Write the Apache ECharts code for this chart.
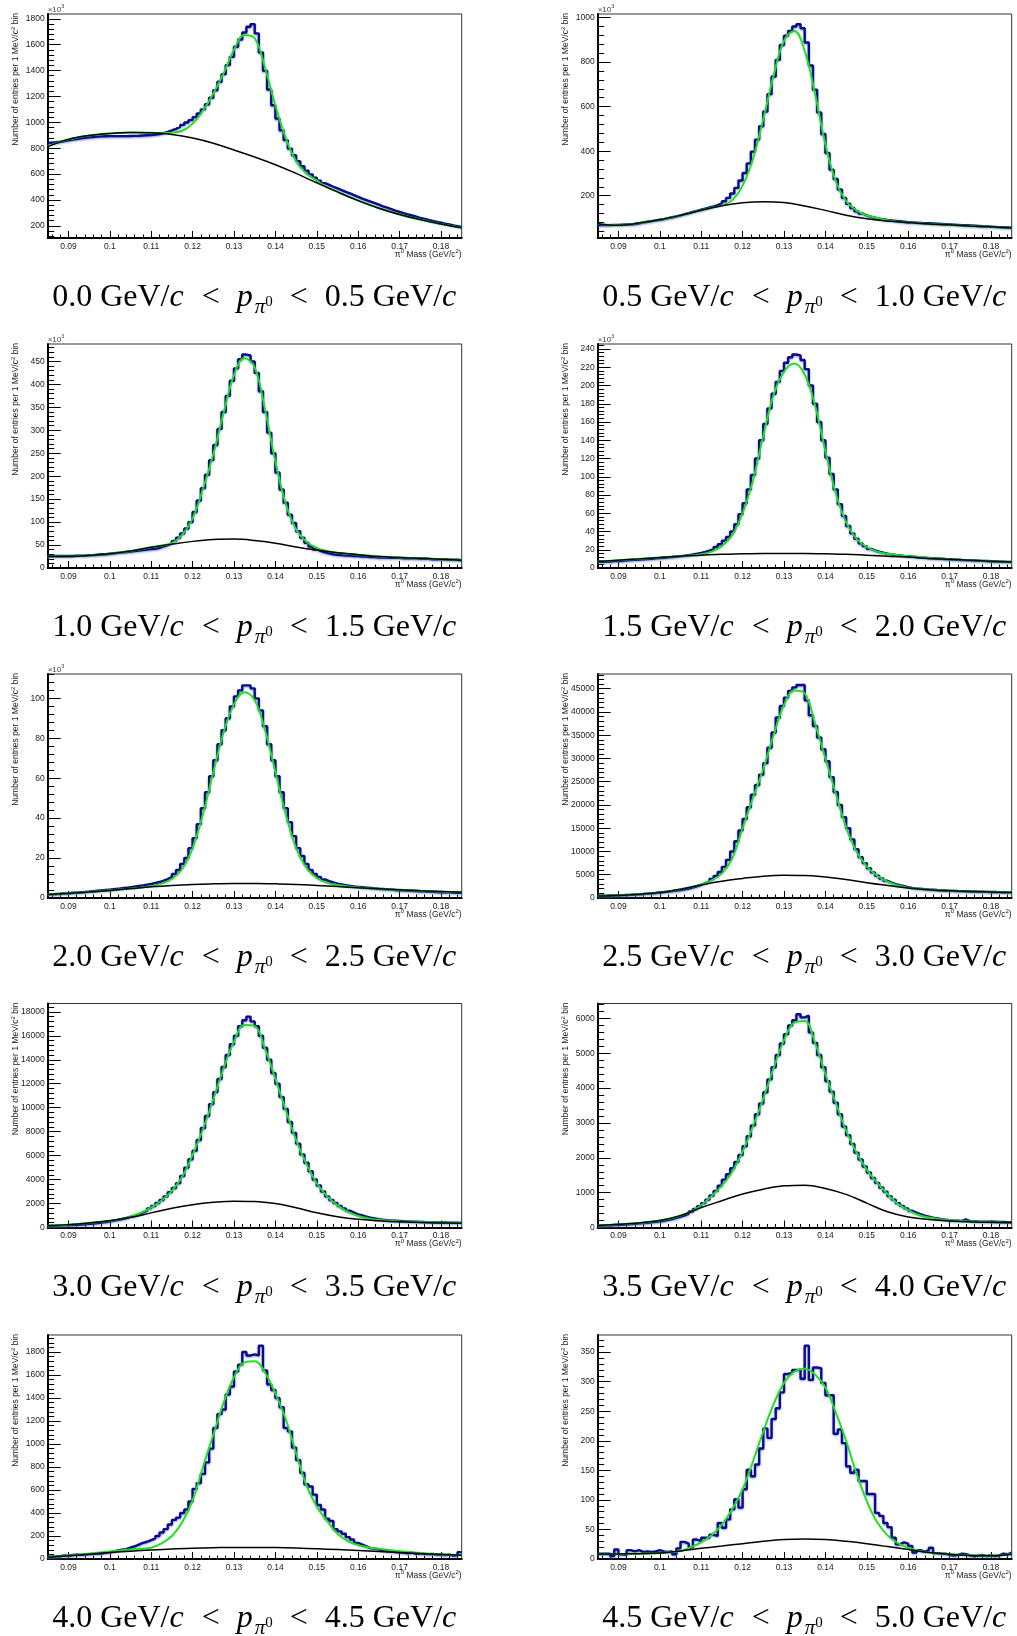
<!DOCTYPE html>
<html>
<head>
<meta charset="utf-8">
<script src="https://cdn.jsdelivr.net/npm/echarts@6/dist/echarts.min.js"></script>
<style>
  html, body { margin: 0; padding: 0; background: #fff; }
  #chart { width: 1017px; height: 1636px; }
</style>
</head>
<body>
<div id="chart"></div>
<script>
// pi0 mass histograms, 1 MeV bins from 0.085 to 0.185 GeV/c^2
const binStart = 0.085;
const binWidth = 0.001;
const fitStep = 0.0025;   // green fit curve sampling
const bkgStep = 0.005;    // black background curve sampling

const xTicks = [0.09, 0.1, 0.11, 0.12, 0.13, 0.14, 0.15, 0.16, 0.17, 0.18];
const xTickLabels = ['0.09', '0.1', '0.11', '0.12', '0.13', '0.14', '0.15', '0.16', '0.17', '0.18'];

const pLow = ['0.0', '0.5', '1.0', '1.5', '2.0', '2.5', '3.0', '3.5', '4.0', '4.5'];
const pHigh = ['0.5', '1.0', '1.5', '2.0', '2.5', '3.0', '3.5', '4.0', '4.5', '5.0'];

// ---- panel 1 (x10^3)
const hist1 = [842, 846, 850, 855, 860, 866, 871, 876, 880, 884, 887, 889, 891, 892, 893, 893, 893, 893, 893, 894,
  895, 896, 898, 900, 902, 905, 910, 917, 926, 937, 950, 964, 980, 998, 1017, 1040, 1068, 1100, 1140, 1190,
  1248, 1313, 1372, 1442, 1506, 1584, 1640, 1694, 1738, 1759, 1687, 1540, 1398, 1254, 1132, 1029, 939, 862, 797, 746,
  700, 660, 627, 598, 572, 548, 530, 516, 502, 489, 476, 463, 450, 437, 424, 411, 399, 387, 375, 363,
  351, 340, 329, 318, 308, 298, 289, 280, 271, 262, 254, 246, 238, 231, 224, 217, 211, 204, 198, 192];
const fit1 = [812, 845, 868, 885, 898, 907, 914, 918, 921, 921, 919, 917, 920, 935, 990, 1090, 1223, 1380, 1560, 1675,
  1650, 1420, 1130, 880, 700, 605, 550, 497, 462, 428, 395, 365, 336, 311, 288, 267, 248, 230, 214, 199, 185];
const bkg1 = [812, 868, 898, 914, 921, 919, 905, 878, 838, 786, 732, 672, 605, 532, 462, 395, 336, 288, 248, 214, 185];
const yTicks1 = [200, 400, 600, 800, 1000, 1200, 1400, 1600, 1800];

// ---- panel 2 (x10^3)
const hist2 = [68, 68, 68, 69, 69, 70, 71, 72, 73, 76, 80, 83, 86, 89, 92, 95, 99, 103, 107, 112,
  117, 122, 127, 132, 137, 142, 147, 152, 158, 166, 175, 190, 210, 235, 268, 302, 345, 398, 452, 512,
  578, 656, 735, 810, 877, 918, 940, 960, 970, 952, 888, 785, 676, 574, 477, 392, 317, 275, 228, 190,
  164, 145, 130, 120, 112, 106, 101, 97, 94, 91, 89, 87, 85, 83, 81, 80, 79, 78, 77, 76,
  75, 74, 73, 72, 71, 70, 69, 68, 67, 66, 65, 64, 63, 62, 61, 60, 59, 58, 57, 56];
const fit2 = [74, 69, 67, 71, 77, 84, 92, 102, 112, 124, 135, 146, 156, 180, 245, 365, 545, 740, 895, 940,
  850, 657, 430, 265, 175, 134, 112, 100, 90, 83, 79, 76, 73, 71, 69, 66, 64, 62, 60, 57, 55];
const bkg2 = [74, 67, 77, 92, 112, 135, 155, 168, 173, 169, 154, 134, 112, 96, 86, 79, 73, 69, 64, 60, 55];
const yTicks2 = [200, 400, 600, 800, 1000];

// ---- panel 3 (x10^3)
const hist3 = [26, 26, 26, 26, 26, 26, 27, 27, 27, 28, 28, 29, 30, 30, 31, 32, 33, 34, 35, 36,
  37, 38, 39, 40, 41, 42, 44, 47, 50, 54, 59, 66, 75, 86, 100, 122, 147, 174, 203, 235,
  268, 303, 340, 375, 408, 435, 455, 465, 463, 450, 425, 385, 340, 295, 250, 208, 171, 142, 116, 98,
  80, 66, 55, 47, 41, 37, 34, 32, 30, 29, 28, 27, 27, 26, 26, 25, 25, 24, 24, 23,
  23, 23, 22, 22, 22, 21, 21, 21, 21, 20, 20, 20, 19, 19, 19, 19, 18, 18, 18, 17];
const fit3 = [25, 25, 25, 26, 27, 29, 31, 34, 37, 41, 45, 49, 54, 72, 108, 172, 248, 338, 420, 457,
  437, 345, 232, 140, 84, 57, 44, 37, 33, 31, 29, 27, 25, 24, 23, 22, 21, 20, 19, 18, 17];
const bkg3 = [25, 25, 27, 31, 37, 45, 52, 58, 62, 63, 60, 54, 46, 39, 33, 29, 25, 23, 21, 19, 17];
const yTicks3 = [0, 50, 100, 150, 200, 250, 300, 350, 400, 450];

// ---- panel 4 (x10^3)
const hist4 = [6.8, 7.0, 7.2, 7.5, 7.7, 8.0, 8.3, 8.6, 8.9, 9.2, 9.5, 9.8, 10.1, 10.5, 10.8, 11.2, 11.6, 12.0, 12.5, 13.0,
  13.5, 14.1, 14.8, 15.6, 16.5, 17.6, 19.0, 20.8, 23.0, 26.0, 30, 34, 40, 48, 59, 71, 86, 102, 120, 140,
  158, 175, 191, 204, 216, 225, 231, 234, 233, 228, 218, 200, 180, 160, 140, 121, 103, 86, 70, 57,
  46, 38, 32, 27, 24, 21, 19.2, 17.8, 16.7, 15.8, 15.0, 14.3, 13.8, 13.3, 12.9, 12.5, 12.1, 11.7, 11.4, 11.0,
  10.7, 10.4, 10.1, 9.8, 9.6, 9.3, 9.1, 8.8, 8.6, 8.4, 8.2, 8.0, 7.8, 7.6, 7.4, 7.2, 7.0, 6.9, 6.7, 6.6];
const fit4 = [7, 7.8, 8.5, 9.2, 10, 10.8, 11.5, 12.3, 13, 13.8, 15, 18, 24, 36, 60, 96, 145, 190, 215, 224,
  212, 178, 128, 82, 50, 32, 23, 18, 15.5, 14, 13, 12, 11, 10.3, 9.6, 9, 8.5, 8, 7.5, 7, 6.5];
const bkg4 = [7, 8.5, 10, 11.5, 13, 14, 15, 15.5, 16, 16, 16, 15.5, 15, 14, 13, 12, 10.5, 9.5, 8.5, 7.5, 6.5];
const yTicks4 = [0, 20, 40, 60, 80, 100, 120, 140, 160, 180, 200, 220, 240];

// ---- panel 5 (x10^3)
const hist5 = [1.8, 2.0, 2.1, 2.3, 2.4, 2.6, 2.7, 2.9, 3.0, 3.2, 3.4, 3.6, 3.8, 4.0, 4.2, 4.4, 4.6, 4.9, 5.1, 5.4,
  5.7, 6.0, 6.3, 6.7, 7.0, 7.5, 8.0, 8.7, 9.5, 10.5, 12.0, 14.0, 17, 20, 25, 30, 37, 45, 53, 61,
  69, 77, 84, 90, 96, 101, 104, 106.5, 106.5, 105, 100, 94, 86, 77, 69, 61, 53, 45, 38, 31,
  25, 21, 17, 14, 12, 10.5, 9.3, 8.5, 7.8, 7.2, 6.8, 6.4, 6.1, 5.8, 5.6, 5.4, 5.2, 5.0, 4.8, 4.6,
  4.5, 4.3, 4.2, 4.0, 3.9, 3.8, 3.7, 3.6, 3.5, 3.4, 3.3, 3.2, 3.1, 3.0, 2.9, 2.8, 2.8, 2.7, 2.6, 2.6];
const fit5 = [1.7, 2.0, 2.3, 2.6, 3.0, 3.4, 3.8, 4.2, 4.7, 5.2, 5.9, 7.2, 9.5, 14.5, 25, 42, 63, 83, 97, 103,
  99, 84, 63, 42, 25, 15, 10, 7.6, 6.5, 5.8, 5.3, 4.9, 4.6, 4.3, 4.1, 3.85, 3.6, 3.4, 3.2, 3.0, 2.9];
const bkg5 = [1.7, 2.3, 3.0, 3.8, 4.7, 5.6, 6.3, 6.8, 7.1, 7.3, 7.3, 7.1, 6.8, 6.3, 5.7, 5.1, 4.6, 4.1, 3.6, 3.2, 2.9];
const yTicks5 = [0, 20, 40, 60, 80, 100];

// ---- panel 6
const hist6 = [500, 520, 540, 560, 590, 620, 660, 700, 750, 800, 860, 930, 1000, 1080, 1170, 1260, 1360, 1470, 1590, 1720,
  1870, 2050, 2270, 2530, 2850, 3200, 3600, 4100, 4750, 5600, 6700, 8200, 10000, 12200, 14500, 17000, 19500, 22200, 24300, 26500,
  29000, 32300, 35600, 38800, 41300, 43100, 44500, 45300, 45800, 45800, 42500, 39300, 37000, 34500, 32000, 29400, 26000, 22800, 20000, 17400,
  15000, 12600, 10500, 8800, 7500, 6400, 5500, 4800, 4200, 3700, 3300, 3000, 2750, 2550, 2350, 2180, 2080, 1990, 1910, 1840,
  1780, 1720, 1670, 1620, 1580, 1540, 1500, 1470, 1440, 1410, 1390, 1360, 1340, 1320, 1300, 1280, 1260, 1240, 1220, 1200];
const fit6 = [450, 480, 560, 660, 800, 980, 1200, 1520, 1900, 2350, 2900, 3800, 5300, 8500, 15000, 21500, 27800, 35000, 41500, 44600,
  44000, 37500, 30000, 22500, 15200, 10000, 6800, 4800, 3500, 2700, 2200, 1980, 1800, 1680, 1570, 1480, 1410, 1340, 1290, 1230, 1180];
const bkg6 = [450, 550, 800, 1200, 1900, 2800, 3600, 4200, 4700, 4900, 4850, 4500, 4000, 3300, 2700, 2150, 1800, 1550, 1400, 1280, 1180];
const yTicks6 = [0, 5000, 10000, 15000, 20000, 25000, 30000, 35000, 40000, 45000];

// ---- panel 7
const hist7 = [160, 165, 175, 185, 195, 210, 230, 250, 270, 300, 330, 370, 410, 460, 510, 570, 640, 710, 790, 880,
  980, 1100, 1250, 1400, 1600, 1800, 2050, 2300, 2600, 2950, 3300, 3700, 4300, 5000, 5700, 6400, 7300, 8300, 9300, 10300,
  11300, 12400, 13400, 14400, 15300, 16000, 16800, 17300, 17600, 17200, 16800, 16000, 15000, 14000, 12900, 12000, 10900, 9900, 8800, 7900,
  7000, 6100, 5400, 4700, 4000, 3500, 3000, 2600, 2300, 2050, 1800, 1600, 1400, 1250, 1100, 1000, 900, 820, 760, 700,
  650, 610, 580, 560, 540, 520, 505, 490, 478, 466, 455, 445, 436, 428, 420, 413, 406, 400, 394, 388];
const fit7 = [140, 180, 240, 300, 380, 460, 565, 700, 920, 1230, 1650, 2250, 3050, 4250, 6050, 8200, 10700, 13300, 15500, 16900,
  16800, 14900, 12400, 9800, 7300, 5300, 3700, 2600, 1850, 1300, 960, 760, 640, 560, 510, 475, 450, 430, 410, 395, 380];
const bkg7 = [140, 240, 380, 560, 850, 1220, 1600, 1900, 2100, 2200, 2180, 2000, 1650, 1230, 900, 680, 560, 470, 420, 380, 350];
const yTicks7 = [0, 2000, 4000, 6000, 8000, 10000, 12000, 14000, 16000, 18000];

// ---- panel 8
const hist8 = [55, 60, 66, 72, 78, 85, 92, 100, 108, 117, 126, 136, 147, 160, 175, 195, 218, 245, 275, 310,
  350, 400, 460, 530, 610, 700, 800, 920, 1050, 1200, 1370, 1530, 1700, 1880, 2080, 2330, 2620, 2930, 3250, 3560,
  3880, 4250, 4600, 4950, 5280, 5550, 5800, 5950, 6120, 6030, 6080, 5600, 5300, 4950, 4600, 4200, 3900, 3580, 3250, 2900,
  2650, 2400, 2150, 1950, 1750, 1580, 1420, 1280, 1150, 1030, 900, 800, 700, 620, 550, 480, 430, 380, 340, 310,
  280, 260, 240, 225, 210, 200, 195, 190, 230, 180, 175, 172, 170, 168, 165, 163, 160, 158, 155, 150];
const fit8 = [55, 70, 90, 108, 130, 160, 200, 260, 345, 450, 640, 900, 1200, 1600, 2180, 2900, 3700, 4580, 5380, 5880,
  5930, 5300, 4400, 3580, 2780, 2150, 1660, 1280, 960, 680, 500, 360, 285, 240, 205, 185, 170, 160, 150, 142, 135];
const bkg8 = [55, 90, 130, 200, 340, 570, 770, 960, 1100, 1195, 1215, 1120, 950, 700, 450, 300, 230, 185, 162, 148, 135];
const yTicks8 = [0, 1000, 2000, 3000, 4000, 5000, 6000];

// ---- panel 9
const hist9 = [20, 22, 25, 30, 28, 35, 38, 36, 40, 42, 45, 50, 48, 55, 60, 65, 75, 80, 85, 100,
  110, 125, 140, 150, 165, 180, 200, 230, 260, 300, 340, 360, 400, 430, 500, 610, 660, 740, 840, 960,
  1140, 1260, 1300, 1430, 1500, 1630, 1690, 1800, 1770, 1780, 1770, 1855, 1640, 1520, 1470, 1400, 1320, 1140, 1110, 970,
  860, 750, 650, 630, 560, 470, 430, 350, 330, 260, 240, 220, 190, 170, 140, 125, 110, 95, 90, 85,
  75, 70, 68, 60, 58, 55, 50, 55, 45, 50, 45, 42, 44, 38, 40, 35, 38, 30, 32, 60];
const fit9 = [15, 22, 30, 38, 47, 56, 65, 74, 82, 90, 98, 135, 200, 320, 510, 800, 1080, 1360, 1580, 1710,
  1720, 1620, 1440, 1215, 920, 640, 455, 330, 220, 155, 120, 100, 88, 78, 68, 60, 52, 46, 40, 36, 32];
const bkg9 = [15, 28, 42, 56, 68, 79, 88, 94, 98, 101, 101, 99, 95, 89, 82, 74, 65, 57, 48, 40, 32];
const yTicks9 = [0, 200, 400, 600, 800, 1000, 1200, 1400, 1600, 1800];

// ---- panel 10
const hist10 = [9, 9, 9, 5, 16, 8, 7, 15, 13, 15, 12, 13, 12, 13, 15, 13, 12, 13, 8, 18,
  29, 26, 20, 33, 30, 36, 36, 41, 39, 61, 53, 67, 84, 101, 87, 118, 151, 140, 160, 187,
  221, 205, 237, 255, 282, 313, 315, 320, 320, 305, 361, 303, 324, 323, 298, 277, 277, 212, 219, 196,
  157, 146, 151, 132, 132, 110, 110, 78, 73, 61, 54, 36, 25, 28, 26, 22, 11, 15, 12, 15,
  19, 10, 9, 9, 7, 6, 7, 9, 8, 6, 5, 6, 7, 5, 6, 5, 6, 9, 8, 11];
const fit10 = [8, 8.2, 8.5, 8.8, 9, 9.5, 10, 11.5, 13.5, 20, 28, 40, 58, 84, 118, 165, 216, 262, 298, 317,
  322, 312, 290, 248, 200, 145, 98, 62, 40, 27, 19, 14, 11, 9.5, 8.2, 7, 6.2, 5.8, 5.6, 6.5, 8];
const bkg10 = [8, 8.5, 9, 10, 13.5, 18, 22, 26, 30, 33, 34, 33, 30, 26, 21, 16, 11, 8, 6, 5.5, 8];
const yTicks10 = [0, 50, 100, 150, 200, 250, 300, 350];

const panels = [
  { hist: hist1, fit: fit1, bkg: bkg1, yMin: 106, yMax: 1837, yTicks: yTicks1, yMinor: 40, k: true },
  { hist: hist2, fit: fit2, bkg: bkg2, yMin: 10, yMax: 1016, yTicks: yTicks2, yMinor: 40, k: true },
  { hist: hist3, fit: fit3, bkg: bkg3, yMin: 0, yMax: 488, yTicks: yTicks3, yMinor: 10, k: true },
  { hist: hist4, fit: fit4, bkg: bkg4, yMin: 0, yMax: 245.5, yTicks: yTicks4, yMinor: 4, k: true },
  { hist: hist5, fit: fit5, bkg: bkg5, yMin: 0, yMax: 112.2, yTicks: yTicks5, yMinor: 4, k: true },
  { hist: hist6, fit: fit6, bkg: bkg6, yMin: 0, yMax: 48170, yTicks: yTicks6, yMinor: 1000, k: false },
  { hist: hist7, fit: fit7, bkg: bkg7, yMin: 0, yMax: 18695, yTicks: yTicks7, yMinor: 400, k: false },
  { hist: hist8, fit: fit8, bkg: bkg8, yMin: 0, yMax: 6429, yTicks: yTicks8, yMinor: 200, k: false },
  { hist: hist9, fit: fit9, bkg: bkg9, yMin: 0, yMax: 1948, yTicks: yTicks9, yMinor: 40, k: false },
  { hist: hist10, fit: fit10, bkg: bkg10, yMin: 0, yMax: 379, yTicks: yTicks10, yMinor: 10, k: false }
];

// layout
const colLeft = [47.7, 597.7];
const rowTop = [14, 344, 674, 1003.5, 1335];
const plotW = 414;
const plotH = 224;
const sans = '"Liberation Sans", Arial, sans-serif';
const serif = '"Liberation Serif", "Times New Roman", serif';
const textColor = '#1a1a1a';

function r4(v) { return Math.round(v * 1e6) / 1e6; }

// minor x ticks every 2 MeV
const xMinor = [];
for (let m = 43; m <= 92; m++) {
  if (m % 5 !== 0) xMinor.push(m * 2 / 1000);
}

function minorValues(p) {
  const out = [];
  for (let k = Math.ceil(p.yMin / p.yMinor); k * p.yMinor <= p.yMax; k++) {
    const v = k * p.yMinor;
    if (!p.yTicks.some(t => Math.abs(t - v) < 1e-9)) out.push(v);
  }
  return out;
}

// small superscript used in axis titles
const supStyle = { fontSize: 6, fontFamily: sans, fill: textColor, verticalAlign: 'middle', padding: [0, 0, 6, 0] };
const plainStyle = { fontSize: 8.5, fontFamily: sans, fill: textColor, verticalAlign: 'middle' };

const grid = [], xAxis = [], yAxis = [], series = [], graphic = [];

panels.forEach((p, i) => {
  const left = colLeft[i % 2];
  const top = rowTop[Math.floor(i / 2)];
  const bottom = top + plotH;

  grid.push({
    left: left, top: top, width: plotW, height: plotH,
    show: true, borderColor: '#333', borderWidth: 1, backgroundColor: 'transparent'
  });

  // major x axis
  xAxis.push({
    gridIndex: i, type: 'value', position: 'bottom', min: binStart, max: 0.185,
    axisLine: { show: true, onZero: false, lineStyle: { color: '#000', width: 2 } },
    axisTick: { show: true, inside: true, length: 7, customValues: xTicks, lineStyle: { color: '#000', width: 1 } },
    axisLabel: {
      show: true, customValues: xTicks, margin: 4, fontSize: 8.5, fontFamily: sans, color: textColor,
      formatter: v => xTickLabels[xTicks.findIndex(t => Math.abs(t - v) < 1e-9)] || ''
    },
    splitLine: { show: false }
  });
  // minor x ticks
  xAxis.push({
    gridIndex: i, type: 'value', position: 'bottom', min: binStart, max: 0.185,
    axisLine: { show: false, onZero: false },
    axisTick: { show: true, inside: true, length: 3.5, customValues: xMinor, lineStyle: { color: '#000', width: 1 } },
    axisLabel: { show: false },
    splitLine: { show: false }
  });

  // major y axis
  yAxis.push({
    gridIndex: i, type: 'value', position: 'left', min: p.yMin, max: p.yMax,
    axisLine: { show: true, onZero: false, lineStyle: { color: '#000', width: 2 } },
    axisTick: { show: true, inside: true, length: 13, customValues: p.yTicks, lineStyle: { color: '#000', width: 1 } },
    axisLabel: {
      show: true, customValues: p.yTicks, margin: 3, fontSize: 8.5, fontFamily: sans, color: textColor,
      formatter: v => String(v)
    },
    splitLine: { show: false }
  });
  // minor y ticks
  yAxis.push({
    gridIndex: i, type: 'value', position: 'left', min: p.yMin, max: p.yMax,
    axisLine: { show: false, onZero: false },
    axisTick: { show: true, inside: true, length: 6.5, customValues: minorValues(p), lineStyle: { color: '#000', width: 1 } },
    axisLabel: { show: false },
    splitLine: { show: false }
  });

  const histData = p.hist.map((v, k) => [r4(binStart + k * binWidth), v]);
  histData.push([0.185, p.hist[p.hist.length - 1]]);

  series.push({
    type: 'line', xAxisIndex: 2 * i, yAxisIndex: 2 * i, data: histData,
    step: 'end', symbol: 'none', silent: true, animation: false, z: 3,
    lineStyle: {
      color: '#0c0c86', width: 2.4,
      shadowColor: 'rgba(90, 110, 230, 0.7)', shadowBlur: 2, shadowOffsetY: 1
    }
  });
  series.push({
    type: 'line', xAxisIndex: 2 * i, yAxisIndex: 2 * i,
    data: p.fit.map((v, k) => [r4(binStart + k * fitStep), v]),
    smooth: 0.4, symbol: 'none', silent: true, animation: false, z: 4,
    lineStyle: { color: '#1fe01f', width: 2 }
  });
  series.push({
    type: 'line', xAxisIndex: 2 * i, yAxisIndex: 2 * i,
    data: p.bkg.map((v, k) => [r4(binStart + k * bkgStep), v]),
    smooth: 0.4, symbol: 'none', silent: true, animation: false, z: 5,
    lineStyle: { color: '#000', width: 1.5 }
  });

  // y axis title, right-aligned to the top of the frame
  graphic.push({
    type: 'text', x: left - 31.7, y: top - 1, rotation: Math.PI / 2, silent: true, z: 10,
    style: {
      text: '{t|Number of entries per 1 MeV/c}{s|2}{t| bin}',
      fontSize: 8.5, fontFamily: sans, fill: textColor, align: 'right', verticalAlign: 'middle',
      rich: { t: plainStyle, s: supStyle }
    }
  });
  // x axis title
  graphic.push({
    type: 'text', x: left + plotW, y: bottom + 16.5, silent: true, z: 10,
    style: {
      text: '{t|\u03c0}{s|0}{t| Mass (GeV/c}{s|2}{t|)}',
      fontSize: 8.5, fontFamily: sans, fill: textColor, align: 'right', verticalAlign: 'middle',
      rich: { t: plainStyle, s: supStyle }
    }
  });
  // x10^3 exponent
  if (p.k) {
    graphic.push({
      type: 'text', x: left, y: top - 4.5, silent: true, z: 10,
      style: {
        text: '{t|\u00d710}{s|3}',
        fontSize: 8, fontFamily: sans, fill: '#444', align: 'left', verticalAlign: 'middle',
        rich: {
          t: { fontSize: 8, fontFamily: sans, fill: '#444', verticalAlign: 'middle' },
          s: { fontSize: 5.5, fontFamily: sans, fill: '#444', verticalAlign: 'middle', padding: [0, 0, 6, 0] }
        }
      }
    });
  }
  // caption
  const cap = '{n|' + pLow[i] + ' GeV/}{i|c}{r|<}{i|p}{sub|\u03c0}{sup|0}{r|<}{n|' + pHigh[i] + ' GeV/}{i|c}';
  graphic.push({
    type: 'text', x: left + plotW / 2, y: bottom + 60, silent: true, z: 10,
    style: {
      text: cap, fontSize: 32, fontFamily: serif, fill: '#000', align: 'center', verticalAlign: 'middle',
      rich: {
        n: { fontSize: 32, fontFamily: serif, fill: '#000', verticalAlign: 'middle', padding: [0, 0, 0, 0] },
        i: { fontSize: 32, fontFamily: serif, fontStyle: 'italic', fill: '#000', verticalAlign: 'middle', padding: [0, 1, 0, 0] },
        r: { fontSize: 32, fontFamily: serif, fill: '#000', verticalAlign: 'middle', padding: [0, 17, 0, 17] },
        sub: { fontSize: 21, fontFamily: serif, fontStyle: 'italic', fill: '#000', verticalAlign: 'middle', padding: [19, 0, 0, 1] },
        sup: { fontSize: 15, fontFamily: serif, fill: '#000', verticalAlign: 'middle', padding: [9, 0, 0, 0] }
      }
    }
  });
});

const chart = echarts.init(document.getElementById('chart'), null, { renderer: 'canvas' });
chart.setOption({
  animation: false,
  backgroundColor: '#fff',
  grid: grid,
  xAxis: xAxis,
  yAxis: yAxis,
  series: series,
  graphic: graphic
});
</script>
</body>
</html>
